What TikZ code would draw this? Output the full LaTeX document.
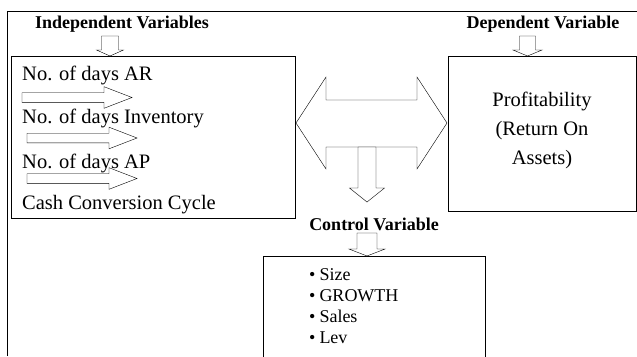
\documentclass[tikz,border=0pt]{standalone}
\usepackage{fontspec}
\setmainfont{Liberation Serif}

\begin{document}
\begin{tikzpicture}[x=1pt,y=-1pt,line join=miter]
  \tikzstyle{every node}=[font=\fontsize{20.5}{29}\selectfont,inner sep=0pt]
  \tikzstyle{title}=[font=\bfseries\fontsize{18}{20}\selectfont]
  \tikzstyle{box}=[draw,thick,minimum width=#1]
  \tikzstyle{blk}=[draw,fill=white]
  \useasboundingbox (0,0) rectangle (637,356);
  % outer frame
  \draw (7,356) -- (7,11) -- (637,11);
  % boxes
  \node[box=284pt,minimum height=162pt] (indep) at (153,137) {};
  \node[box=188pt,minimum height=155pt] (dep) at (542,133.5) {};
  \node[box=222pt,minimum height=124pt] (ctrl) at (374,318) {};
  % headings
  \node[title] (indeplab) at (122,24) {Independent Variables};
  \node[title] (deplab) at (543,24) {Dependent Variable};
  \node[title] (ctrllab) at (374,224) {Control Variable};
  % independent variables
  \node[anchor=west] (ar) at (22,75) {No. of days AR};
  \node[anchor=west] (inv) at (22,118) {No. of days Inventory};
  \node[anchor=west] (ap) at (22,163) {No. of days AP};
  \node[anchor=west] (ccc) at (22,205) {Cash Conversion Cycle};
  \foreach \x/\y in {22/97.5, 27/138, 27/178.5}
    \draw[blk] (\x,\y-4.8) -- ++(82,0) -- ++(0,-6) -- ++(28,10.8)
      -- ++(-28,10.8) -- ++(0,-6) -- ++(-82,0) -- cycle;
  % dependent variable
  \node[align=center] (roa) at (542,130)
    {Profitability\\(Return On\\Assets)};
  % control variables
  \node[anchor=north west,align=left,font=\fontsize{18}{21}\selectfont]
    (list) at (309,268) {\textbullet\hspace{4pt}Size\\ \textbullet\hspace{4pt}GROWTH\\
    \textbullet\hspace{4pt}Sales\\ \textbullet\hspace{4pt}Lev};
  % double arrow
  \draw[blk] (296,123) -- (326,77) -- (326,100) -- (417,100) -- (417,77)
    -- (447,123) -- (417,169) -- (417,147) -- (326,147) -- (326,169) -- cycle;
  % down arrows
  \foreach \cx/\ya/\yb/\yc/\sw/\hw in {110/36/50/56/8.5/13.5,
      527.5/36/50/56/8/14.5, 367/233/249/256/10/18, 367/147/188/202/9/17.5}
    \draw[blk] (\cx-\sw,\ya) -- (\cx+\sw,\ya) -- (\cx+\sw,\yb) -- (\cx+\hw,\yb)
      -- (\cx,\yc) -- (\cx-\hw,\yb) -- (\cx-\sw,\yb) -- cycle;
\end{tikzpicture}
\end{document}
